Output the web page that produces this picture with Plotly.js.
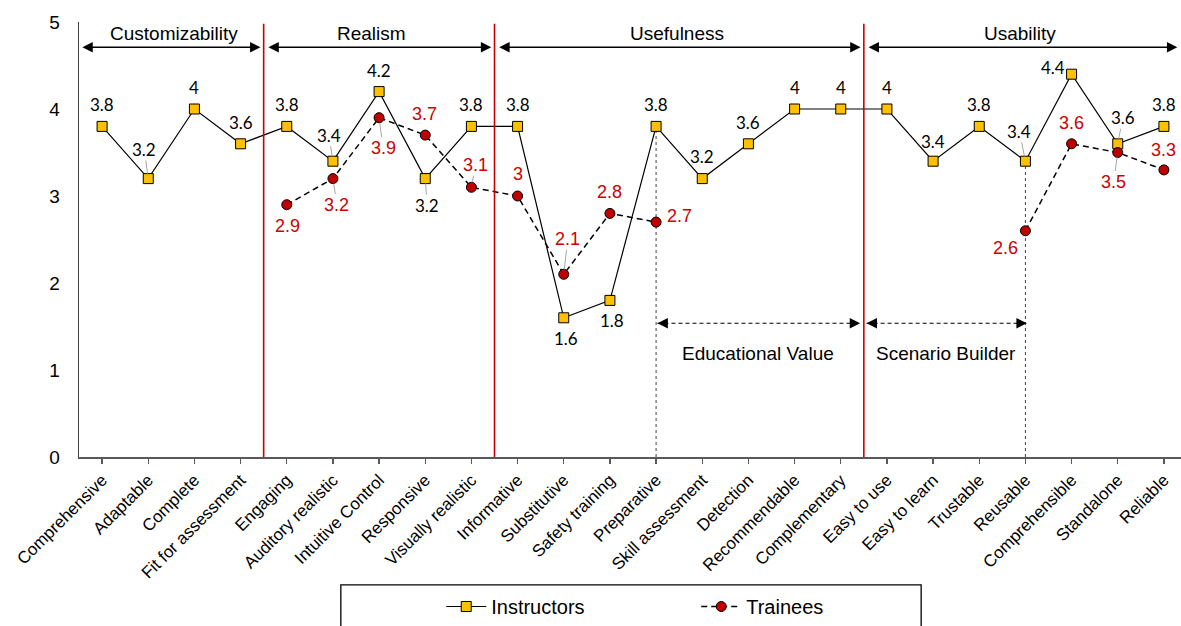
<!DOCTYPE html>
<html>
<head>
<meta charset="utf-8">
<script src="https://cdn.plot.ly/plotly-3.0.1.min.js"></script>
<style>html,body{margin:0;padding:0;background:#fff;}#chart{width:1181px;height:626px;}</style>
</head>
<body>
<div id="chart"></div>
<script>
// ---- data ----
const categories = ['Comprehensive','Adaptable','Complete','Fit for assessment','Engaging','Auditory realistic','Intuitive Control','Responsive','Visually realistic','Informative','Substitutive','Safety training','Preparative','Skill assessment','Detection','Recommendable','Complementary','Easy to use','Easy to learn','Trustable','Reusable','Comprehensible','Standalone','Reliable'];
const instructors = [3.8,3.2,4,3.6,3.8,3.4,4.2,3.2,3.8,3.8,1.6,1.8,3.8,3.2,3.6,4,4,4,3.4,3.8,3.4,4.4,3.6,3.8];
const trainees = [null,null,null,null,2.9,3.2,3.9,3.7,3.1,3,2.1,2.8,2.7,null,null,null,null,null,null,null,2.6,3.6,3.5,3.3];
const seriesNames = ['Instructors','Trainees'];
const sectionNames = ['Customizability','Realism','Usefulness','Usability'];
const sectionFirst = ['Comprehensive','Engaging','Informative','Easy to use'];
const subNames = ['Educational Value','Scenario Builder'];
const subFrom = ['Preparative','Easy to use'];
const subTo = ['Complementary','Reusable'];
const yTicks = [0,1,2,3,4,5];

// ---- label placement (pixel offsets, [dx, dy, leader]) ----
const instOff = [[0,-22],[-4,-29,1],[0,-22],[0,-21],[0,-22],[-4,-26,1],[0,-21],[2,27,1],[0,-22],[0,-22],[2,21],[2,20],
  [0,-22],[0,-22],[0,-21],[0,-22],[0,-22],[0,-22],[0,-20],[0,-22],[-6,-30,1],[-19,-7],[5,-26,1],[0,-22]];
const trnOff = [null,null,null,null,[1,21],[4,26,1],[4,30,1],[-1,-21],[4,-22,1],[0,-22],[4,-35,1],[0,-21],[23,-6],
  null,null,null,null,null,null,null,[-20,17],[0,-21],[-4,29,1],[0,-20]];

const N = categories.length;
const xMax = 23.37;
const idx = c => categories.indexOf(c);

const traces = [
  {x: categories, y: instructors, name: seriesNames[0], type: 'scatter', mode: 'lines+markers',
   line: {color: '#000', width: 1.2},
   marker: {symbol: 'square', size: 10, color: '#FFC000', line: {color: '#000', width: 1}}},
  {x: categories, y: trainees, name: seriesNames[1], type: 'scatter', mode: 'lines+markers', connectgaps: false,
   line: {color: '#000', width: 1.5, dash: '6px,4px'},
   marker: {symbol: 'circle', size: 10, color: '#C00000', line: {color: '#000', width: 1}}}
];

const annotations = [];
const shapes = [];

function addLabel(i, v, off, font) {
  if (v === null || !off) return;
  const txt = String(v);
  if (off[2]) {
    annotations.push({x: i, y: v, xref: 'x', yref: 'y', text: txt, showarrow: true, arrowhead: 0,
      arrowcolor: '#A6A6A6', arrowwidth: 1, ax: off[0], ay: off[1], standoff: 5, font: font, borderpad: 0});
  } else {
    annotations.push({x: i, y: v, xref: 'x', yref: 'y', text: txt, showarrow: false,
      xshift: off[0], yshift: -off[1], font: font});
  }
}
const blackFont = {family: 'Lato, Arial, sans-serif', size: 17, color: '#000'};
const redFont = {family: 'Arial, Liberation Sans, sans-serif', size: 18, color: '#CC0000'};
instructors.forEach((v, i) => addLabel(i, v, instOff[i], blackFont));
trainees.forEach((v, i) => addLabel(i, v, trnOff[i], redFont));

// section separators, titles and arrows
const starts = sectionFirst.map(idx);
const bounds = starts.map((s, k) => [s - 0.5, k < starts.length - 1 ? starts[k + 1] - 0.5 : xMax]);
const arrowY = 4.71, titleY = 4.87, gap = 0.07;
bounds.forEach((b, k) => {
  if (k > 0) {
    shapes.push({type: 'line', xref: 'x', yref: 'y', x0: b[0], x1: b[0], y0: 0, y1: 4.98,
      line: {color: '#CC0000', width: 1.6}});
  }
  const left = k === 0 ? b[0] + 0.04 : b[0] + gap;
  const right = k === bounds.length - 1 ? b[1] - 0.08 : b[1] - gap;
  annotations.push({x: right, y: arrowY, ax: left, ay: arrowY, xref: 'x', yref: 'y', axref: 'x', ayref: 'y',
    text: '', showarrow: true, arrowside: 'end+start', arrowhead: 2, startarrowhead: 2,
    arrowsize: 1.6, startarrowsize: 1.6, arrowwidth: 1.3, arrowcolor: '#000', standoff: 0, startstandoff: 0});
  const cx = k === 0 ? (b[0] + b[1]) / 2 + 0.05 : k === 1 ? (b[0] + b[1]) / 2 - 0.17 : (b[0] + b[1]) / 2 - 0.05;
  annotations.push({x: cx, y: titleY, xref: 'x', yref: 'y', text: sectionNames[k], showarrow: false,
    font: {family: 'Arial, Liberation Sans, sans-serif', size: 19, color: '#000'}});
});

// sub-sections (dashed double arrows)
const subY = 1.537, subTextY = 1.19;
subNames.forEach((name, k) => {
  let a = idx(subFrom[k]), b = idx(subTo[k]);
  let x0 = k === 0 ? a + 0.03 : a - 0.5 + 0.06;
  let x1 = k === 0 ? b + 0.5 - 0.08 : b + 0.03;
  shapes.push({type: 'line', xref: 'x', yref: 'y', x0: x0, x1: x1, y0: subY, y1: subY,
    line: {color: '#000', width: 1.1, dash: '4px,3px'}});
  annotations.push({x: x0, y: subY, xref: 'x', yref: 'y', ax: 12, ay: 0, text: '', showarrow: true,
    arrowhead: 2, arrowsize: 1.6, arrowwidth: 1.3, arrowcolor: '#000', standoff: 0});
  annotations.push({x: x1, y: subY, xref: 'x', yref: 'y', ax: -12, ay: 0, text: '', showarrow: true,
    arrowhead: 2, arrowsize: 1.6, arrowwidth: 1.3, arrowcolor: '#000', standoff: 0});
  const cx = k === 0 ? 14.21 : 18.27;
  annotations.push({x: cx, y: subTextY, xref: 'x', yref: 'y', text: name, showarrow: false,
    font: {family: 'Arial, Liberation Sans, sans-serif', size: 19, color: '#000'}});
});

// dotted drop lines at sub-section ends
[idx('Preparative'), idx('Reusable')].forEach(i => {
  shapes.push({type: 'line', xref: 'x', yref: 'y', x0: i, x1: i, y0: 0, y1: instructors[i], layer: 'below',
    line: {color: '#404040', width: 1, dash: '3px,3px'}});
});

// legend frame
shapes.push({type: 'rect', xref: 'paper', yref: 'paper', x0: 0.2376, x1: 0.7642, y0: -0.294, y1: -0.45,
  line: {color: '#000', width: 1.3}, fillcolor: 'rgba(0,0,0,0)'});

const layout = {
  width: 1181, height: 626,
  margin: {l: 78.6, r: 0, t: 22, b: 162},
  paper_bgcolor: '#fff', plot_bgcolor: '#fff',
  font: {family: 'Arial, Liberation Sans, sans-serif', color: '#000'},
  showlegend: true,
  legend: {orientation: 'h', x: 0.3287, y: -0.30, xanchor: 'left', yanchor: 'top',
    font: {family: 'Arial, Liberation Sans, sans-serif', size: 20, color: '#000'},
    bgcolor: 'rgba(0,0,0,0)', borderwidth: 0, entrywidth: 200, itemwidth: 40},
  xaxis: {type: 'category', range: [-0.5, xMax], showline: true, linecolor: '#595959', linewidth: 1.5,
    ticks: 'outside', ticklen: 5, tickcolor: '#595959', tickwidth: 1.2, tickangle: -45,
    tickfont: {family: 'Arial, Liberation Sans, sans-serif', size: 17, color: '#000'},
    showgrid: false, zeroline: false, fixedrange: true},
  yaxis: {range: [0, 5], tickvals: yTicks, ticktext: yTicks.map(String), showline: true, linecolor: '#404040', linewidth: 1.3,
    ticks: '', showgrid: false, zeroline: false, ticklabelstandoff: 14,
    tickfont: {family: 'Arial, Liberation Sans, sans-serif', size: 19, color: '#000'}, fixedrange: true},
  annotations: annotations,
  shapes: shapes
};

Plotly.newPlot('chart', traces, layout, {displayModeBar: false, staticPlot: true});
</script>
</body>
</html>
